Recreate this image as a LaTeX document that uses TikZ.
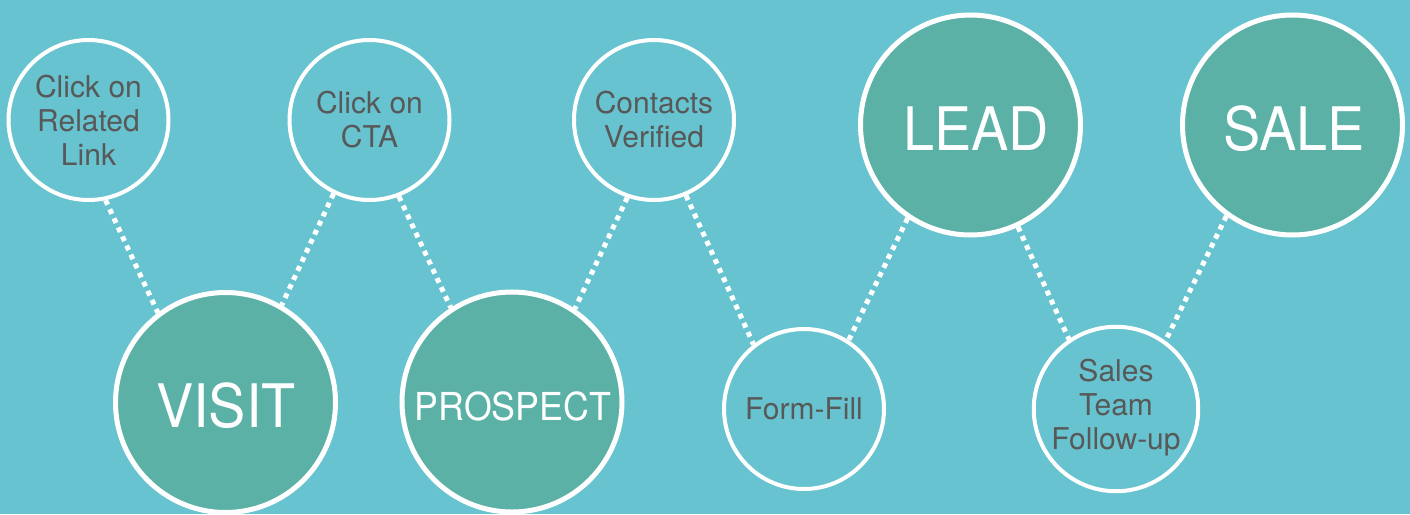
\documentclass[tikz,border=0pt]{standalone}
\usepackage{fontspec}
\setmainfont{TeX Gyre Heros}
\newfontfamily\bigfont[FakeStretch=0.93]{TeX Gyre Heros}
\definecolor{bgc}{RGB}{102,195,207}
\definecolor{bigc}{RGB}{92,177,167}
\definecolor{txtc}{RGB}{88,88,88}
\begin{document}
\begin{tikzpicture}[x=1pt,y=-1pt,
  smallc/.style={circle,draw=white,line width=4pt,inner sep=0pt,minimum size=160pt,
    text=txtc,align=center,font=\fontsize{30}{34}\selectfont},
  bigcirc/.style={circle,draw=white,fill=bigc,line width=5pt,inner sep=0pt,minimum size=220pt,
    text=white,align=center},
  dotline/.style={draw=white,line width=5pt,dash pattern=on 5pt off 5pt}]
\fill[bgc] (0,0) rectangle (1410,514);
\useasboundingbox (0,0) rectangle (1410,514);
\node[smallc] (c1) at (88.5,120) {Click on\\Related\\Link};
\node[smallc] (c2) at (369.5,120) {Click on\\CTA};
\node[smallc] (c3) at (654,120) {Contacts\\Verified};
\node[smallc] (c4) at (804,409) {Form-Fill};
\node[smallc] (c5) at (1116,409) {\raisebox{3pt}{\begin{tabular}{@{}c@{}}Sales\\Team\\Follow-up\end{tabular}}};
\node[bigcirc] (V) at (225.5,402.5) {};
\node[bigcirc] (P) at (512,402) {};
\node[bigcirc] (L) at (970.5,125) {};
\node[bigcirc] (S) at (1292.5,125) {};
\node[text=white,font=\bigfont\fontsize{60}{60}\selectfont] (tV) at (226,406) {VISIT};
\node[text=white,font=\bigfont\fontsize{38.5}{40}\selectfont] (tP) at (513,406) {PROSPECT};
\node[text=white,font=\bigfont\fontsize{60}{60}\selectfont] (tL) at (976,129) {LEAD};
\node[text=white,font=\bigfont\fontsize{60}{60}\selectfont] (tS) at (1294,129) {SALE};
\draw[dotline] (c1.-78) -- (V.127);
\draw[dotline] (c2.-116) -- (V.60);
\draw[dotline] (c2.-69) -- (P.123);
\draw[dotline] (c3.-109) -- (P.56);
\draw[dotline] (c3.-67) -- (c4.128);
\draw[dotline] (L.-124) -- (c4.57);
\draw[dotline] (L.-65) -- (c5.124);
\draw[dotline] (S.-126) -- (c5.54);
\end{tikzpicture}
\end{document}
